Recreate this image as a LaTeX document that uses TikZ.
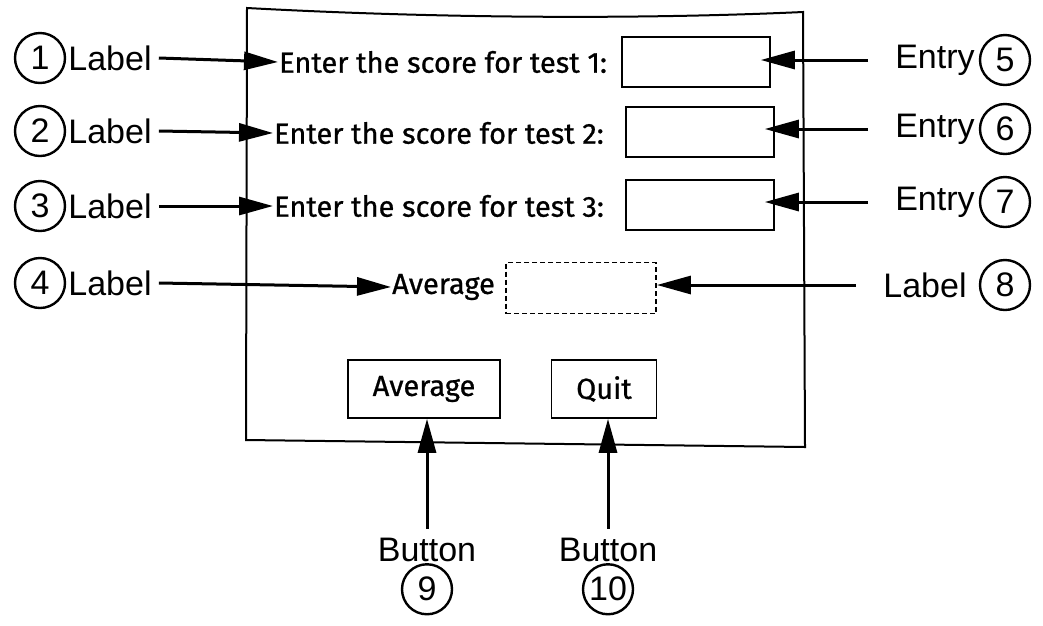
\documentclass[tikz,border=0pt]{standalone}
\usepackage{fontspec}
\usepackage{tikz}
\usetikzlibrary{arrows.meta,positioning}
\newfontfamily\calloutfamily{Liberation Sans}
\newfontfamily\formfamily[FakeBold=0.8]{Fira Sans}
\newcommand{\calloutfont}{\calloutfamily\fontsize{34}{37}\selectfont}
\newcommand{\formfont}{\formfamily\fontsize{29}{32}\selectfont}

\tikzset{
    num/.style={circle, draw, line width=2.4pt, minimum size=50pt, inner sep=0pt, font=\calloutfont},
    callout/.style={font=\calloutfont, inner sep=1pt},
    formtext/.style={font=\formfont, inner sep=1pt},
    fieldbox/.style={draw, line width=1.6pt, minimum width=148pt, minimum height=50pt},
    btnbox/.style={draw, line width=1.6pt, minimum height=58pt, font=\formfont},
    ptr/.style={-{Triangle[length=34pt,width=18pt]}, line width=3pt},
}

\begin{document}
\begin{tikzpicture}[x=1pt,y=-1pt]
    \useasboundingbox (0,0) rectangle (1043,625);

    % the window
    \draw[line width=2pt] (247,8) .. controls (450,19) and (650,19) .. (803,12)
        -- (805,447) -- (246,440) -- cycle;

    % form contents
    \node[formtext, anchor=west] (t1) at (278,62) {Enter the score for test 1:};
    \node[formtext, anchor=west] (t2) at (273,133) {Enter the score for test 2:};
    \node[formtext, anchor=west] (t3) at (273,206) {Enter the score for test 3:};
    \node[formtext, anchor=west] (t4) at (391,287) {Average};
    \node[fieldbox] (b1) at (696,62) {};
    \node[fieldbox] (b2) at (700,132) {};
    \node[fieldbox] (b3) at (700,205) {};
    \node[fieldbox, line width=1.8pt, dash pattern=on 5pt off 3pt,
          minimum width=150pt, minimum height=51pt] (b4) at (581,288) {};
    \node[btnbox, minimum width=152pt] (avgbtn) at (424,389) {Average};
    \node[btnbox, minimum width=105pt] (quitbtn) at (604,389) {Quit};

    % left callouts
    \node[num] (n1) at (40,58) {1};
    \node[num] (n2) at (40,131) {2};
    \node[num] (n3) at (40,206) {3};
    \node[num] (n4) at (40,283) {4};
    \node[callout, right=1pt of n1] (l1) {Label};
    \node[callout, right=1pt of n2] (l2) {Label};
    \node[callout, right=1pt of n3] (l3) {Label};
    \node[callout, right=1pt of n4] (l4) {Label};

    % right callouts
    \node[num] (n5) at (1005,60) {5};
    \node[num] (n6) at (1005,129) {6};
    \node[num] (n7) at (1005,202) {7};
    \node[num] (n8) at (1005,285) {8};
    \node[callout, left=3pt of n5] (e5) {Entry};
    \node[callout, left=3pt of n6] (e6) {Entry};
    \node[callout, left=3pt of n7] (e7) {Entry};
    \node[callout, left=11pt of n8] (l8) {Label};

    % bottom callouts
    \node[callout] (bt9) at (427,550) {Button};
    \node[callout] (bt10) at (608,550) {Button};
    \node[num, below=0pt of bt9] (n9) {9};
    \node[num, below=0pt of bt10] (n10) {10};

    % pointers
    \draw[ptr] (l1.east) ++(6,0) -- (t1.west);
    \draw[ptr] (l2.east) ++(6,0) -- (t2.west);
    \draw[ptr] (l3.east) ++(6,0) -- (t3.west);
    \draw[ptr] (l4.east) ++(6,0) -- (t4.west);
    \draw[ptr, shorten <=26pt, shorten >=-10pt] (e5.west) -- (e5.west -| b1.east);
    \draw[ptr, shorten <=26pt, shorten >=-10pt] (e6.west) -- (e6.west -| b2.east);
    \draw[ptr, shorten <=26pt, shorten >=-10pt] (e7.west) -- (e7.west -| b3.east);
    \draw[ptr, shorten <=26pt] (l8.west) -- (l8.west -| b4.east);
    \draw[ptr, shorten <=8pt] (bt9.north) -- (bt9.north |- avgbtn.south);
    \draw[ptr, shorten <=8pt] (bt10.north) -- (bt10.north |- quitbtn.south);
\end{tikzpicture}
\end{document}
